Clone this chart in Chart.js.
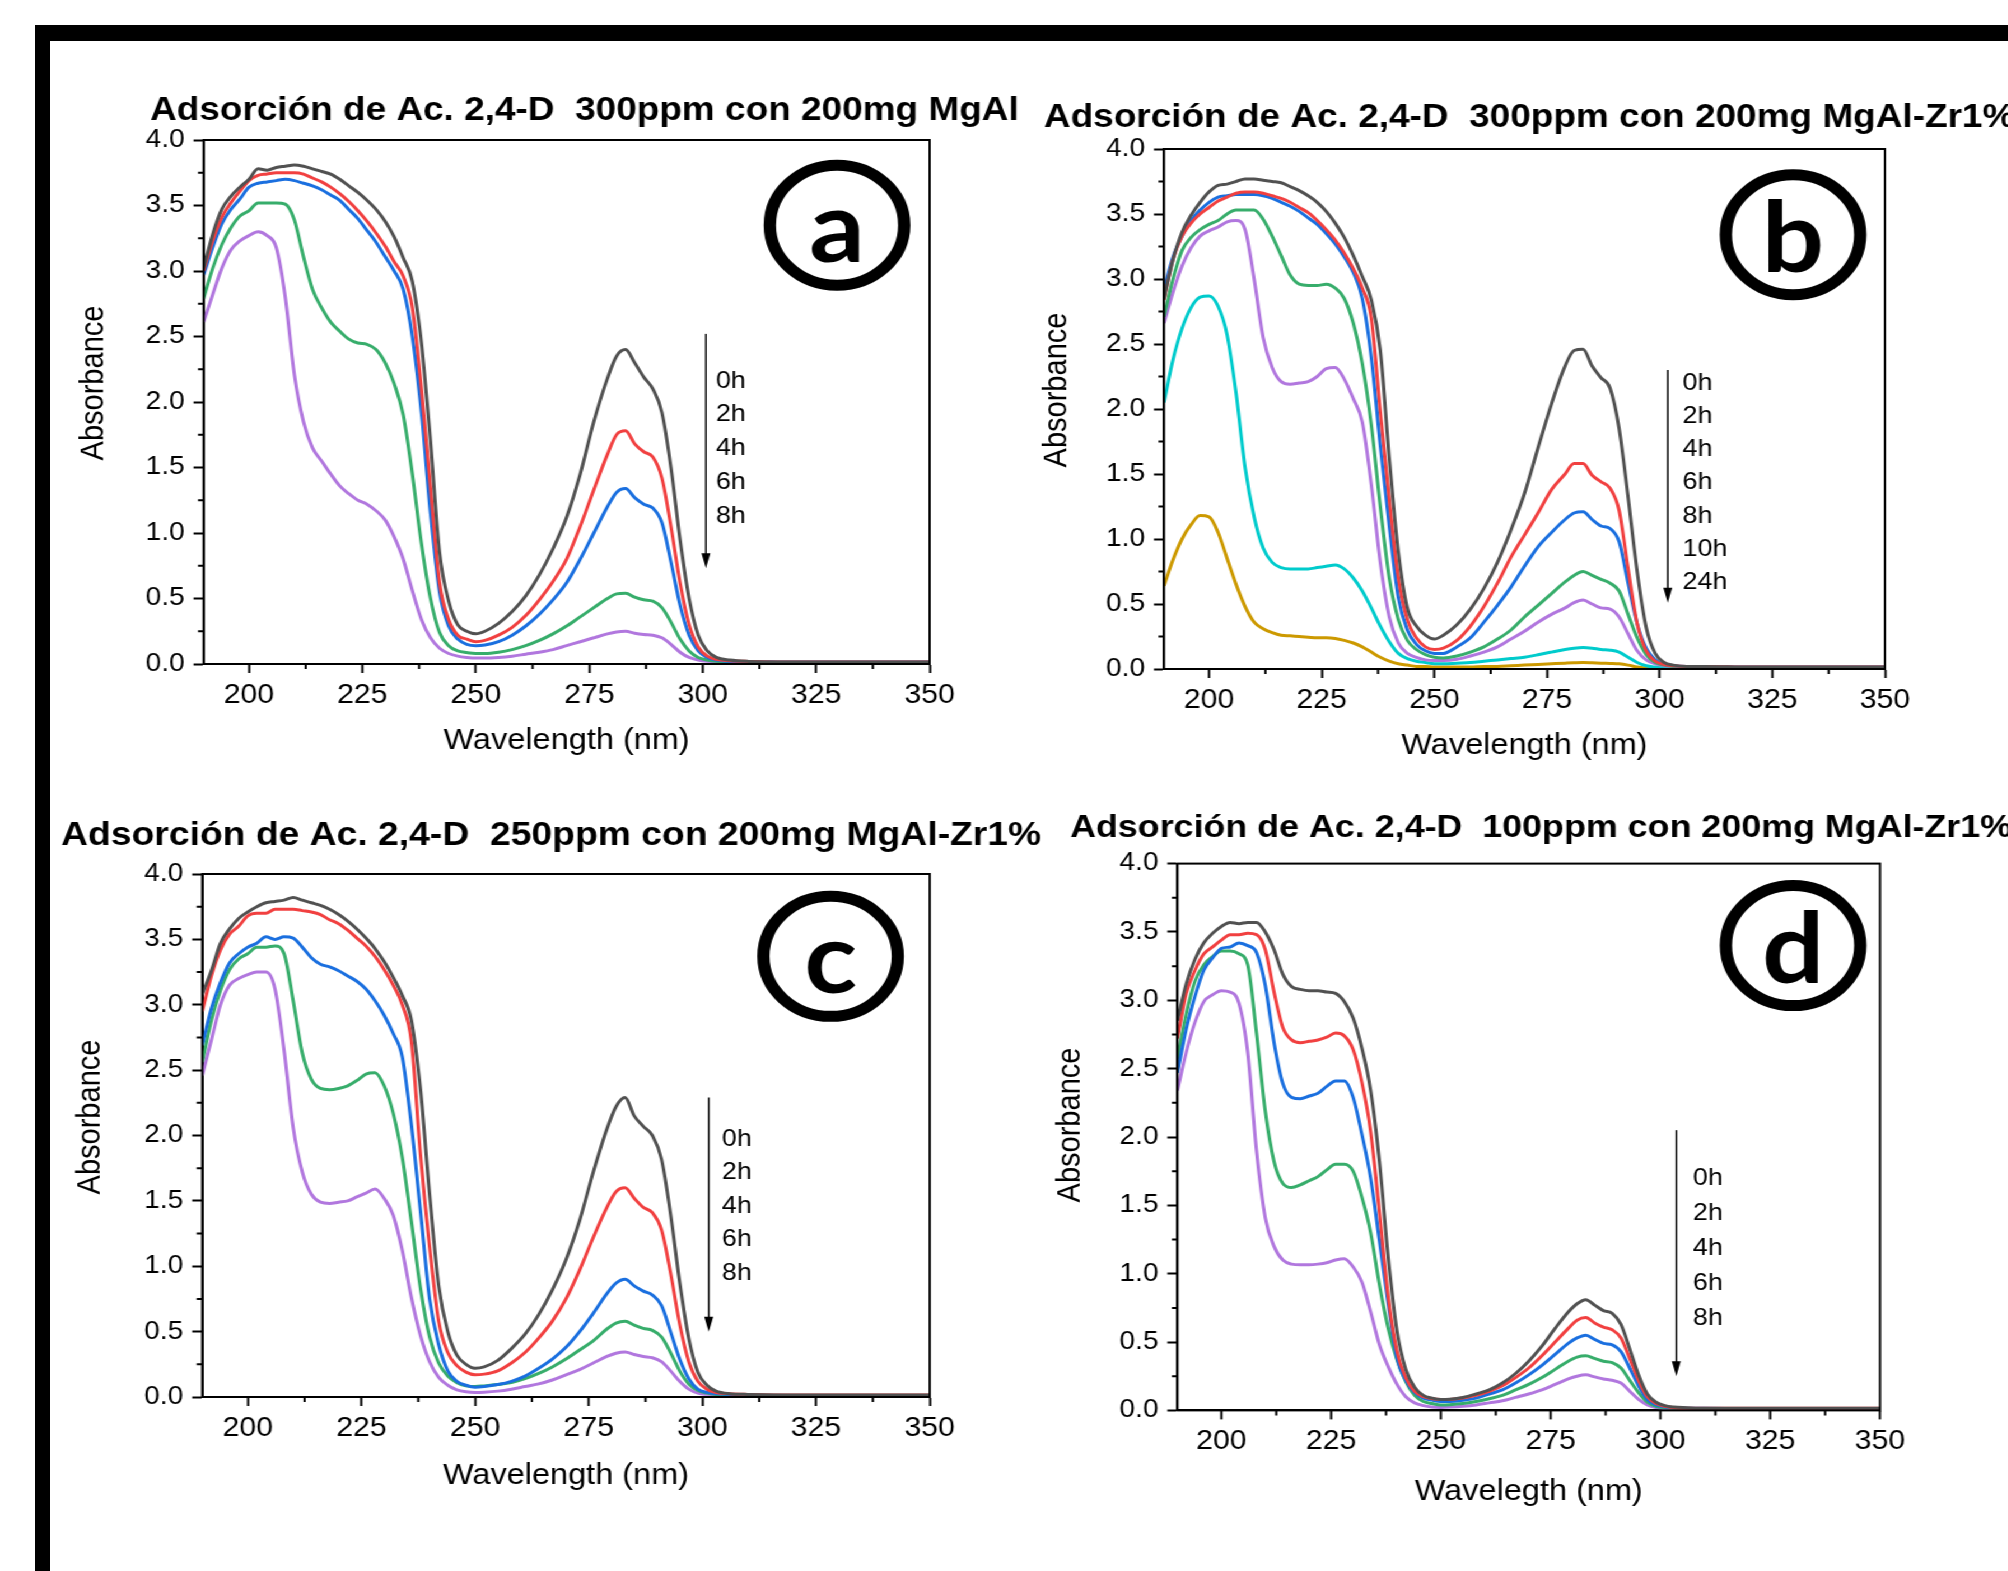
<!DOCTYPE html>
<html>
<head>
<meta charset="utf-8">
<script src="https://cdn.jsdelivr.net/npm/chart.js@4.4.0/dist/chart.umd.min.js"></script>
<style>
  html, body { margin: 0; padding: 0; background: #fff; overflow: hidden; }
  body { width: 2008px; height: 1571px; position: relative; }
  /* the original figure is stretched a bit horizontally */
  #wrap { position: absolute; left: 0; top: 0; width: 1793px; height: 1571px; transform: scaleX(1.12); transform-origin: 0 0; }
  #wrap canvas { position: absolute; left: 0; top: 0; }
  .bar { position: absolute; background: #000; }
</style>
</head>
<body>
<div class="bar" style="left:35px; top:25px; width:1973px; height:16px"></div>
<div class="bar" style="left:35px; top:25px; width:15px; height:1546px"></div>
<div id="wrap">
  <canvas id="cA" width="1793" height="1571"></canvas>
  <canvas id="cB" width="1793" height="1571"></canvas>
  <canvas id="cC" width="1793" height="1571"></canvas>
  <canvas id="cD" width="1793" height="1571"></canvas>
</div>
<script>
// wavelengths (nm)
const wl = [190,192,194,196,198,200,202,204,206,208,
            210,212,214,216,218,220,222,224,226,228,
            230,232,234,236,238,240,242,244,246,248,
            250,252,255,258,261,264,267,270,273,276,
            279,281,283,285,287,289,291,293,295,297,
            299,301,303,306,310,320,335,350];

const xTicks = [200, 225, 250, 275, 300, 325, 350];
const xMinor = [212.5, 237.5, 262.5, 287.5, 312.5, 337.5];
const yTicks = [0, 0.5, 1, 1.5, 2, 2.5, 3, 3.5, 4];
const yMinor = [0.25, 0.75, 1.25, 1.75, 2.25, 2.75, 3.25, 3.75];

const times5 = ['0h', '2h', '4h', '6h', '8h'];
const times7 = ['0h', '2h', '4h', '6h', '8h', '10h', '24h'];
const colors = ['#515151', '#F14040', '#1A6FDF', '#37AD6B', '#B177DE', '#00CBCC', '#CC9900'];

// (a) 300ppm, MgAl
const a0h = [3.02,3.28,3.47,3.57,3.64,3.70,3.78,3.77,3.79,3.80,
             3.81,3.80,3.78,3.76,3.74,3.70,3.65,3.60,3.54,3.47,
             3.38,3.26,3.10,2.92,2.45,1.70,0.85,0.48,0.30,0.25,
             0.23,0.25,0.31,0.40,0.52,0.68,0.88,1.12,1.45,1.85,
             2.18,2.35,2.40,2.30,2.19,2.10,1.92,1.50,0.95,0.50,
             0.22,0.10,0.05,0.03,0.02,0.015,0.015,0.015];
const a2h = [3.00,3.23,3.41,3.52,3.61,3.69,3.73,3.74,3.75,3.75,
             3.75,3.74,3.71,3.68,3.64,3.59,3.53,3.46,3.38,3.29,
             3.19,3.07,2.96,2.72,2.10,1.35,0.62,0.34,0.22,0.19,
             0.17,0.18,0.22,0.28,0.37,0.49,0.63,0.80,1.05,1.33,
             1.60,1.75,1.78,1.68,1.62,1.58,1.42,1.05,0.62,0.30,
             0.13,0.06,0.035,0.025,0.02,0.015,0.015,0.015];
const a4h = [2.97,3.18,3.36,3.47,3.55,3.64,3.67,3.68,3.69,3.70,
             3.69,3.67,3.65,3.62,3.58,3.54,3.47,3.40,3.31,3.22,
             3.11,3.00,2.86,2.50,1.92,1.15,0.55,0.29,0.19,0.15,
             0.14,0.145,0.17,0.22,0.29,0.38,0.49,0.62,0.80,1.00,
             1.20,1.31,1.34,1.27,1.22,1.19,1.08,0.78,0.45,0.22,
             0.10,0.05,0.03,0.02,0.02,0.015,0.015,0.015];
const a6h = [2.79,3.02,3.20,3.33,3.42,3.46,3.52,3.52,3.52,3.51,
             3.39,3.11,2.86,2.72,2.61,2.54,2.48,2.45,2.44,2.40,
             2.30,2.14,1.90,1.45,0.92,0.50,0.24,0.14,0.10,0.087,
             0.08,0.08,0.09,0.11,0.14,0.18,0.23,0.29,0.36,0.43,
             0.50,0.535,0.54,0.51,0.49,0.48,0.43,0.32,0.19,0.10,
             0.05,0.03,0.02,0.015,0.015,0.012,0.012,0.012];
const a8h = [2.61,2.82,3.02,3.16,3.23,3.27,3.30,3.27,3.18,2.80,
             2.21,1.85,1.65,1.55,1.45,1.36,1.30,1.25,1.22,1.17,
             1.10,0.97,0.80,0.56,0.34,0.20,0.12,0.08,0.06,0.05,
             0.045,0.045,0.05,0.06,0.075,0.09,0.11,0.14,0.17,0.20,
             0.23,0.245,0.25,0.235,0.225,0.22,0.20,0.15,0.09,0.05,
             0.03,0.02,0.015,0.012,0.012,0.012,0.012,0.012];

// (b) 300ppm, MgAl-Zr1%
const b0h = [2.85,3.15,3.36,3.49,3.59,3.67,3.72,3.73,3.75,3.77,
             3.77,3.76,3.75,3.74,3.71,3.68,3.64,3.59,3.52,3.43,
             3.32,3.18,3.02,2.84,2.45,1.62,0.90,0.47,0.33,0.26,
             0.23,0.26,0.34,0.46,0.62,0.82,1.07,1.35,1.70,2.04,
             2.33,2.45,2.46,2.33,2.24,2.16,1.85,1.32,0.75,0.32,
             0.12,0.05,0.03,0.02,0.02,0.015,0.015,0.015];
const b2h = [2.84,3.15,3.33,3.43,3.50,3.55,3.60,3.63,3.66,3.67,
             3.67,3.66,3.64,3.62,3.59,3.55,3.51,3.45,3.38,3.30,
             3.20,3.08,2.93,2.70,1.98,1.30,0.70,0.38,0.24,0.17,
             0.15,0.16,0.22,0.33,0.48,0.66,0.86,1.03,1.20,1.38,
             1.50,1.58,1.58,1.49,1.44,1.39,1.22,0.77,0.35,0.14,
             0.06,0.035,0.025,0.02,0.02,0.015,0.015,0.015];
const b4h = [2.92,3.17,3.33,3.45,3.53,3.59,3.63,3.64,3.65,3.65,
             3.65,3.64,3.62,3.59,3.56,3.52,3.47,3.42,3.35,3.27,
             3.17,3.05,2.85,2.40,1.72,1.10,0.55,0.30,0.19,0.14,
             0.12,0.12,0.17,0.24,0.36,0.49,0.63,0.79,0.94,1.05,
             1.15,1.20,1.21,1.15,1.10,1.08,0.98,0.66,0.35,0.16,
             0.07,0.035,0.025,0.02,0.02,0.015,0.015,0.015];
const b6h = [2.71,3.00,3.22,3.32,3.38,3.42,3.45,3.50,3.53,3.53,
             3.53,3.46,3.33,3.18,3.03,2.96,2.95,2.95,2.96,2.93,
             2.85,2.66,2.35,1.88,1.25,0.70,0.38,0.22,0.15,0.11,
             0.09,0.085,0.10,0.13,0.17,0.23,0.30,0.40,0.49,0.58,
             0.67,0.72,0.75,0.72,0.69,0.66,0.60,0.42,0.24,0.11,
             0.05,0.03,0.02,0.015,0.015,0.012,0.012,0.012];
const b8h = [2.66,2.90,3.10,3.24,3.33,3.37,3.40,3.44,3.45,3.38,
             3.00,2.55,2.32,2.21,2.19,2.20,2.21,2.25,2.31,2.32,
             2.23,2.08,1.90,1.42,0.82,0.40,0.20,0.12,0.09,0.07,
             0.065,0.065,0.075,0.10,0.13,0.17,0.23,0.29,0.36,0.42,
             0.47,0.51,0.53,0.50,0.47,0.46,0.40,0.27,0.14,0.07,
             0.04,0.025,0.02,0.015,0.015,0.012,0.012,0.012];
const b10h = [2.05,2.38,2.62,2.78,2.86,2.87,2.79,2.57,2.12,1.55,
              1.17,0.93,0.82,0.78,0.77,0.77,0.77,0.78,0.79,0.80,
              0.77,0.70,0.60,0.47,0.33,0.21,0.12,0.08,0.06,0.05,
              0.04,0.04,0.045,0.05,0.06,0.07,0.08,0.09,0.11,0.13,
              0.15,0.16,0.165,0.16,0.15,0.145,0.13,0.09,0.05,0.025,
              0.015,0.01,0.01,0.01,0.01,0.01,0.01,0.01];
const b24h = [0.64,0.84,1.00,1.11,1.18,1.17,1.05,0.85,0.65,0.48,
              0.36,0.31,0.28,0.26,0.255,0.25,0.245,0.24,0.24,0.235,
              0.22,0.20,0.17,0.13,0.09,0.06,0.04,0.03,0.02,0.02,
              0.015,0.015,0.015,0.015,0.02,0.02,0.025,0.03,0.035,0.04,
              0.045,0.048,0.05,0.048,0.045,0.043,0.04,0.03,0.015,0.008,
              0.005,0.005,0.005,0.005,0.005,0.005,0.005,0.005];

// (c) 250ppm, MgAl-Zr1%
const c0h = [3.08,3.26,3.47,3.58,3.66,3.71,3.75,3.78,3.79,3.80,
             3.82,3.80,3.78,3.76,3.73,3.69,3.64,3.58,3.51,3.43,
             3.33,3.21,3.07,2.88,2.35,1.55,0.85,0.50,0.32,0.25,
             0.22,0.23,0.28,0.37,0.48,0.63,0.82,1.05,1.35,1.72,
             2.05,2.22,2.29,2.15,2.07,2.00,1.82,1.40,0.88,0.45,
             0.19,0.09,0.045,0.025,0.02,0.015,0.015,0.015];
const c2h = [2.95,3.22,3.42,3.54,3.60,3.68,3.70,3.70,3.73,3.73,
             3.73,3.72,3.71,3.69,3.65,3.62,3.57,3.51,3.45,3.37,
             3.27,3.15,3.00,2.72,1.85,1.15,0.58,0.34,0.24,0.19,
             0.17,0.175,0.20,0.26,0.34,0.45,0.58,0.75,0.97,1.22,
             1.45,1.57,1.60,1.52,1.45,1.41,1.28,0.95,0.56,0.27,
             0.12,0.06,0.035,0.025,0.02,0.015,0.015,0.015];
const c4h = [2.69,2.97,3.17,3.32,3.39,3.44,3.47,3.52,3.50,3.52,
             3.51,3.44,3.36,3.31,3.29,3.26,3.22,3.18,3.12,3.03,
             2.92,2.78,2.60,2.08,1.42,0.75,0.40,0.20,0.12,0.09,
             0.075,0.08,0.095,0.12,0.16,0.22,0.29,0.38,0.50,0.64,
             0.79,0.87,0.90,0.85,0.81,0.78,0.70,0.50,0.29,0.14,
             0.06,0.035,0.025,0.02,0.015,0.012,0.012,0.012];
const c6h = [2.56,2.88,3.11,3.27,3.35,3.39,3.44,3.44,3.45,3.39,
             3.03,2.63,2.43,2.36,2.35,2.36,2.38,2.42,2.47,2.48,
             2.38,2.17,1.83,1.34,0.83,0.46,0.26,0.16,0.11,0.085,
             0.08,0.085,0.095,0.11,0.14,0.18,0.23,0.29,0.36,0.43,
             0.52,0.565,0.58,0.55,0.525,0.51,0.46,0.34,0.20,0.10,
             0.05,0.03,0.02,0.015,0.015,0.012,0.012,0.012];
const c8h = [2.46,2.73,3.00,3.15,3.20,3.23,3.25,3.25,3.12,2.65,
             2.06,1.72,1.55,1.49,1.48,1.49,1.50,1.53,1.56,1.59,
             1.52,1.39,1.12,0.76,0.47,0.27,0.15,0.09,0.055,0.04,
             0.035,0.037,0.045,0.06,0.08,0.10,0.13,0.17,0.21,0.26,
             0.31,0.335,0.345,0.325,0.31,0.30,0.27,0.20,0.12,0.06,
             0.03,0.02,0.015,0.012,0.012,0.012,0.012,0.012];

// (d) 100ppm, MgAl-Zr1%
const d0h = [2.85,3.12,3.30,3.42,3.49,3.54,3.57,3.56,3.57,3.57,
             3.50,3.37,3.19,3.10,3.08,3.07,3.07,3.06,3.05,2.99,
             2.87,2.65,2.34,1.82,1.12,0.58,0.30,0.17,0.11,0.09,
             0.08,0.082,0.095,0.12,0.15,0.20,0.27,0.36,0.47,0.60,
             0.72,0.78,0.81,0.77,0.73,0.71,0.63,0.45,0.26,0.12,
             0.06,0.035,0.025,0.02,0.015,0.015,0.015,0.015];
const d2h = [2.72,3.05,3.22,3.34,3.39,3.44,3.48,3.48,3.49,3.48,
             3.37,3.06,2.80,2.71,2.69,2.70,2.71,2.73,2.76,2.74,
             2.64,2.40,2.04,1.45,0.83,0.43,0.24,0.14,0.10,0.085,
             0.08,0.08,0.09,0.11,0.14,0.18,0.24,0.31,0.40,0.50,
             0.60,0.66,0.68,0.64,0.61,0.59,0.53,0.38,0.22,0.10,
             0.05,0.03,0.02,0.015,0.015,0.015,0.015,0.015];
const d4h = [2.47,2.79,3.03,3.22,3.31,3.38,3.39,3.42,3.40,3.35,
             3.11,2.69,2.39,2.29,2.28,2.30,2.32,2.37,2.41,2.41,
             2.29,2.02,1.70,1.24,0.78,0.38,0.22,0.13,0.09,0.075,
             0.066,0.066,0.075,0.09,0.12,0.15,0.20,0.26,0.33,0.41,
             0.49,0.53,0.55,0.52,0.49,0.48,0.43,0.31,0.18,0.08,
             0.04,0.025,0.02,0.015,0.015,0.012,0.012,0.012];
const d6h = [2.57,2.90,3.14,3.26,3.32,3.36,3.36,3.34,3.26,2.76,
             2.19,1.82,1.66,1.63,1.65,1.68,1.71,1.76,1.80,1.80,
             1.75,1.56,1.30,0.92,0.60,0.37,0.21,0.11,0.065,0.05,
             0.04,0.042,0.05,0.065,0.085,0.11,0.15,0.19,0.24,0.30,
             0.36,0.39,0.40,0.38,0.36,0.35,0.31,0.22,0.13,0.06,
             0.03,0.02,0.015,0.012,0.012,0.012,0.012,0.012];
const d8h = [2.34,2.62,2.84,2.99,3.04,3.07,3.06,2.98,2.62,1.90,
             1.41,1.20,1.10,1.07,1.065,1.065,1.07,1.08,1.10,1.11,
             1.05,0.94,0.72,0.48,0.32,0.19,0.10,0.055,0.035,0.025,
             0.022,0.024,0.03,0.04,0.055,0.07,0.095,0.12,0.15,0.19,
             0.23,0.25,0.26,0.245,0.23,0.22,0.20,0.14,0.08,0.04,
             0.02,0.012,0.01,0.008,0.008,0.008,0.008,0.008];

const CW = 1793, CH = 1571;
const FONT = '"Liberation Sans", Arial, Helvetica, sans-serif';
Chart.defaults.font.family = FONT;
Chart.defaults.color = '#000';

// frame, minor ticks, panel title, y title, circled letter, arrow with time labels
const decor = {
  id: 'decor',
  afterDraw(chart, args, o) {
    const {ctx, chartArea: a, scales: {x, y}} = chart;
    ctx.save();
    ctx.strokeStyle = '#000';
    ctx.fillStyle = '#000';
    ctx.lineWidth = 2;
    ctx.strokeRect(a.left, a.top, a.right - a.left, a.bottom - a.top);

    ctx.beginPath();
    xMinor.forEach(v => { const px = x.getPixelForValue(v); ctx.moveTo(px, a.bottom); ctx.lineTo(px, a.bottom + 5); });
    yMinor.forEach(v => { const py = y.getPixelForValue(v); ctx.moveTo(a.left, py); ctx.lineTo(a.left - 5, py); });
    ctx.stroke();

    ctx.font = 'bold ' + o.titleSize + 'px ' + FONT;
    ctx.textAlign = 'left';
    ctx.textBaseline = 'middle';
    ctx.fillText(o.title, o.titleX, o.titleY);

    // y axis title sits a little above the middle of the axis in the original
    ctx.save();
    ctx.translate(o.yTitle[0], o.yTitle[1]);
    ctx.rotate(-Math.PI / 2);
    ctx.font = '29px ' + FONT;
    ctx.textAlign = 'center';
    ctx.fillText('Absorbance', 0, 0);
    ctx.restore();

    const cx = x.getPixelForValue(o.circle[0]), cy = y.getPixelForValue(o.circle[1]);
    ctx.lineWidth = 11;
    ctx.beginPath();
    ctx.arc(cx, cy, 60, 0, Math.PI * 2);
    ctx.stroke();
    ctx.font = 'bold 98px Lato, "Open Sans", sans-serif';
    ctx.textAlign = 'center';
    ctx.textBaseline = 'alphabetic';
    ctx.fillText(o.letter, cx, cy + 37);

    const ax = x.getPixelForValue(o.arrow[0]);
    const ay0 = y.getPixelForValue(o.arrow[1]), ay1 = y.getPixelForValue(o.arrow[2]);
    ctx.lineWidth = 1.5;
    ctx.beginPath();
    ctx.moveTo(ax, ay0);
    ctx.lineTo(ax, ay1 - 12);
    ctx.stroke();
    ctx.beginPath();
    ctx.moveTo(ax, ay1);
    ctx.lineTo(ax - 4, ay1 - 15);
    ctx.lineTo(ax + 4, ay1 - 15);
    ctx.closePath();
    ctx.fill();

    ctx.font = '24px ' + FONT;
    ctx.textAlign = 'left';
    ctx.textBaseline = 'middle';
    const lx = x.getPixelForValue(o.labelAt[0]), ly = y.getPixelForValue(o.labelAt[1]);
    o.times.forEach((t, i) => ctx.fillText(t, lx, ly + i * o.labelStep));
    ctx.restore();
  }
};

function makePanel(p) {
  const yW = p.plot.l - p.yTitle[0] + 17.4;
  const xH = p.xTitleY - p.plot.b + 17.4;
  return new Chart(document.getElementById(p.id), {
    type: 'line',
    data: {
      labels: wl,
      datasets: p.series.map((s, i) => ({
        label: p.times[i],
        data: s,
        borderColor: colors[i],
        borderWidth: 3,
        pointRadius: 0,
        fill: false,
        cubicInterpolationMode: 'monotone'
      }))
    },
    options: {
      responsive: false,
      animation: false,
      events: [],
      layout: {
        padding: { left: p.plot.l - yW, top: p.plot.t, right: CW - p.plot.r, bottom: CH - p.plot.b - xH }
      },
      scales: {
        x: {
          type: 'linear', min: 190, max: 350,
          afterBuildTicks: s => { s.ticks = xTicks.map(v => ({value: v})); },
          afterFit: s => { s.height = xH; },
          ticks: { font: {size: 27}, color: '#000', padding: 6, maxRotation: 0, autoSkip: false, callback: v => String(v) },
          grid: { drawOnChartArea: false, tickLength: 9, tickWidth: 2, tickColor: '#000' },
          border: { display: true, color: '#000', width: 2 },
          title: { display: true, text: p.xLabel, font: {size: 29}, color: '#000', padding: 0 }
        },
        y: {
          type: 'linear', min: 0, max: 4,
          afterBuildTicks: s => { s.ticks = yTicks.map(v => ({value: v})); },
          afterFit: s => { s.width = yW; },
          ticks: { font: {size: 25}, color: '#000', padding: 8, autoSkip: false, callback: v => v.toFixed(1) },
          grid: { drawOnChartArea: false, tickLength: 9, tickWidth: 2, tickColor: '#000' },
          border: { display: true, color: '#000', width: 2 },
          title: { display: false }
        }
      },
      plugins: {
        legend: { display: false },
        tooltip: { enabled: false },
        decor: {
          title: p.title, titleSize: p.titleSize, titleX: p.titleX, titleY: p.titleY, yTitle: p.yTitle,
          letter: p.letter, circle: p.circle, arrow: p.arrow, labelAt: p.labelAt, labelStep: p.labelStep, times: p.times
        }
      }
    },
    plugins: [decor]
  });
}

makePanel({
  id: 'cA', plot: {l: 181.8, r: 830.0, t: 140, b: 664}, yTitle: [83.8, 383], xTitleY: 741,
  title: 'Adsorción de Ac. 2,4-D  300ppm con 200mg MgAl', titleSize: 33, titleX: 133.9, titleY: 110.7,
  xLabel: 'Wavelength (nm)', letter: 'a', circle: [329.6, 3.35],
  arrow: [300.7, 2.52, 0.73], labelAt: [302.9, 2.16], labelStep: 33.75,
  times: times5, series: [a0h, a2h, a4h, a6h, a8h]
});
makePanel({
  id: 'cB', plot: {l: 1039.3, r: 1683.0, t: 149, b: 669}, yTitle: [943.6, 390], xTitleY: 746,
  title: 'Adsorción de Ac. 2,4-D  300ppm con 200mg MgAl-Zr1%', titleSize: 33, titleX: 932.1, titleY: 118,
  xLabel: 'Wavelength (nm)', letter: 'b', circle: [329.6, 3.34],
  arrow: [301.8, 2.30, 0.51], labelAt: [305.1, 2.2], labelStep: 33.25,
  times: times7, series: [b0h, b2h, b4h, b6h, b8h, b10h, b24h]
});
makePanel({
  id: 'cC', plot: {l: 180.6, r: 830.1, t: 874, b: 1397}, yTitle: [81.4, 1117], xTitleY: 1476,
  title: 'Adsorción de Ac. 2,4-D  250ppm con 200mg MgAl-Zr1%', titleSize: 33.3, titleX: 54.5, titleY: 835.7,
  xLabel: 'Wavelength (nm)', letter: 'c', circle: [328.2, 3.37],
  arrow: [301.4, 2.29, 0.50], labelAt: [304.3, 1.97], labelStep: 33.4,
  times: times5, series: [c0h, c2h, c4h, c6h, c8h]
});
makePanel({
  id: 'cD', plot: {l: 1051.3, r: 1678.6, t: 863.6, b: 1410.4}, yTitle: [956.4, 1125], xTitleY: 1492,
  title: 'Adsorción de Ac. 2,4-D  100ppm con 200mg MgAl-Zr1%', titleSize: 32, titleX: 955.4, titleY: 828,
  xLabel: 'Wavelegth (nm)', letter: 'd', circle: [330.2, 3.40],
  arrow: [303.6, 2.05, 0.25], labelAt: [307.4, 1.70], labelStep: 35,
  times: times5, series: [d0h, d2h, d4h, d6h, d8h]
});
</script>
</body>
</html>
